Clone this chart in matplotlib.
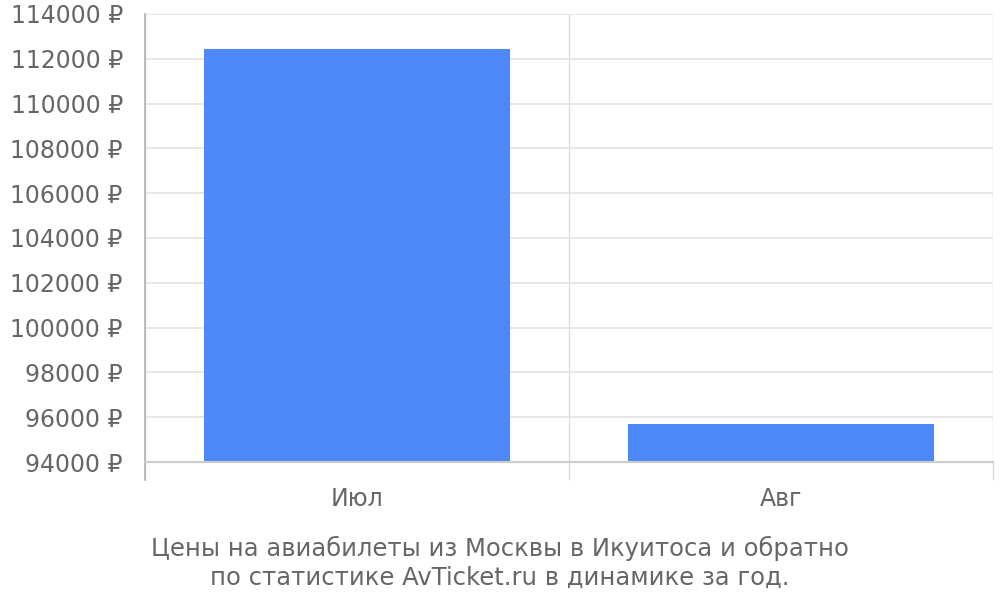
import matplotlib
matplotlib.use('Agg')
import matplotlib.pyplot as plt

# data
months = ['Июл', 'Авг']
prices = [112450, 95700]
y_ticks = list(range(94000, 114001, 2000))
caption = ('Цены на авиабилеты из Москвы в Икуитоса и обратно\n'
           'по статистике AvTicket.ru в динамике за год.')

text_color = '#666666'
bar_color = '#4d89f9'

plt.rcParams['font.family'] = ['DejaVu Sans']

fig = plt.figure(figsize=(10, 6), dpi=100)
ax = fig.add_axes([0.145, 0.23, 0.848, 0.7467])

x = list(range(len(months)))
ax.bar(x, prices, width=0.72, color=bar_color, zorder=3)

ax.set_xlim(-0.5, len(months) - 0.5)
ax.set_ylim(y_ticks[0], y_ticks[-1])
ax.set_yticks(y_ticks)
ax.set_yticklabels([f'{v} ₽' for v in y_ticks])

# category labels on major ticks, boundaries on minor ticks (extend below axis)
ax.set_xticks(x)
ax.set_xticklabels(months)
ax.set_xticks([i - 0.5 for i in range(len(months) + 1)], minor=True)
ax.tick_params(axis='x', which='major', length=0, pad=18,
               labelsize=17, labelcolor=text_color)
ax.tick_params(axis='x', which='minor', length=13, width=1, color='#dddddd')
ax.tick_params(axis='y', length=0, pad=16, labelsize=17, labelcolor=text_color)

ax.grid(axis='y', color='#e3e3e3', linewidth=1.2, zorder=0)
ax.grid(axis='x', which='minor', color='#dddddd', linewidth=1, zorder=0)

for side in ['top', 'right']:
    ax.spines[side].set_visible(False)
ax.spines['left'].set_color('#b0b0b0')
ax.spines['left'].set_linewidth(1.2)
ax.spines['left'].set_bounds(y_ticks[0], y_ticks[-1])
ax.spines['bottom'].set_color('#cccccc')
ax.spines['bottom'].set_linewidth(1.5)
ax.spines['bottom'].set_zorder(4)

# left axis line continues down like the tick marks
ax.plot([-0.5, -0.5], [0, -0.04], transform=ax.get_xaxis_transform(),
        color='#b0b0b0', linewidth=1.2, clip_on=False, zorder=4)

fig.text(0.5, 0.062, caption, ha='center', va='center', fontsize=17.5,
         color=text_color, linespacing=1.25)

fig.savefig('out.png', dpi=100)
